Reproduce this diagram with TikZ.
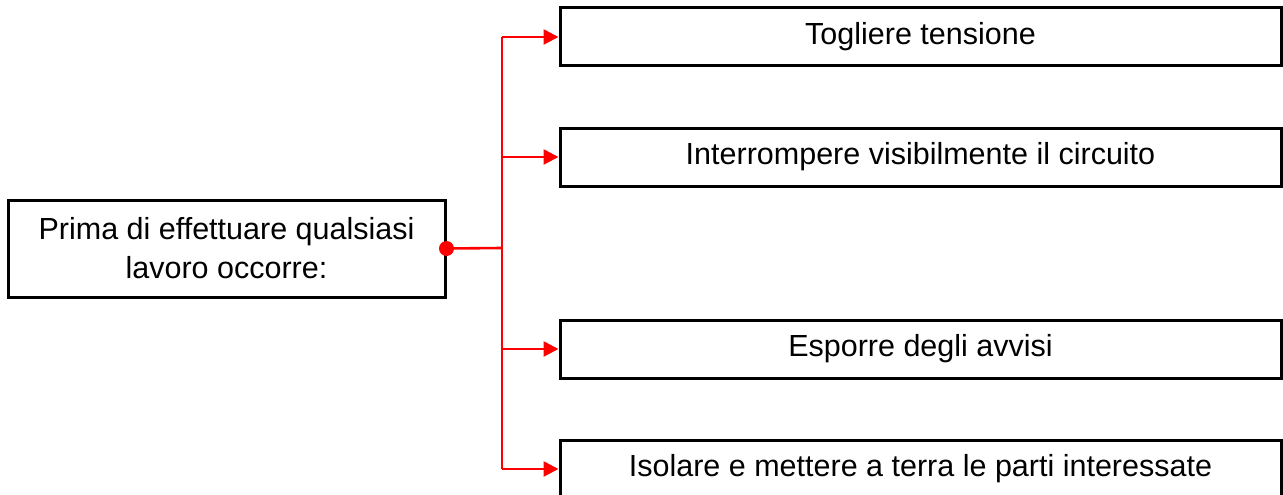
\documentclass[tikz,border=0pt]{standalone}
\usepackage{fontspec}
\setmainfont{Liberation Sans}
\usetikzlibrary{arrows.meta}
\begin{document}
\begin{tikzpicture}[x=1pt,y=-1pt,
  box/.style={draw=black,line width=3pt,fill=white,inner sep=0pt,font=\fontsize{30.5}{39}\selectfont,align=center},
  conn/.style={draw=red,line width=2.6pt,-{Triangle[length=15pt,width=15pt]}},
  trunk/.style={draw=red,line width=2.6pt}]
\useasboundingbox (0,0) rectangle (1283,495);
\node[box,minimum width=437pt,minimum height=97pt] (src) at (226.5,248.5) {Prima di effettuare qualsiasi\\lavoro occorre:};
\node[box,minimum width=721pt,minimum height=58pt] (b1) at (920.5,37) {Togliere tensione};
\node[box,minimum width=721pt,minimum height=58pt] (b2) at (920.5,157) {Interrompere visibilmente il circuito};
\node[box,minimum width=721pt,minimum height=58pt] (b3) at (920.5,349) {Esporre degli avvisi};
\node[box,minimum width=721pt,minimum height=58pt] (b4) at (920.5,469) {Isolare e mettere a terra le parti interessate};
\coordinate (j) at (502,248);
\draw[trunk] (src.east) -- (j);
\draw[trunk] (j |- b1.west) -- (j |- b4.west);
\foreach \b in {b1,b2,b3,b4} \draw[conn] (j |- \b.west) -- (\b.west);
\fill[red] (src.east) circle (7.5pt);
\end{tikzpicture}
\end{document}
